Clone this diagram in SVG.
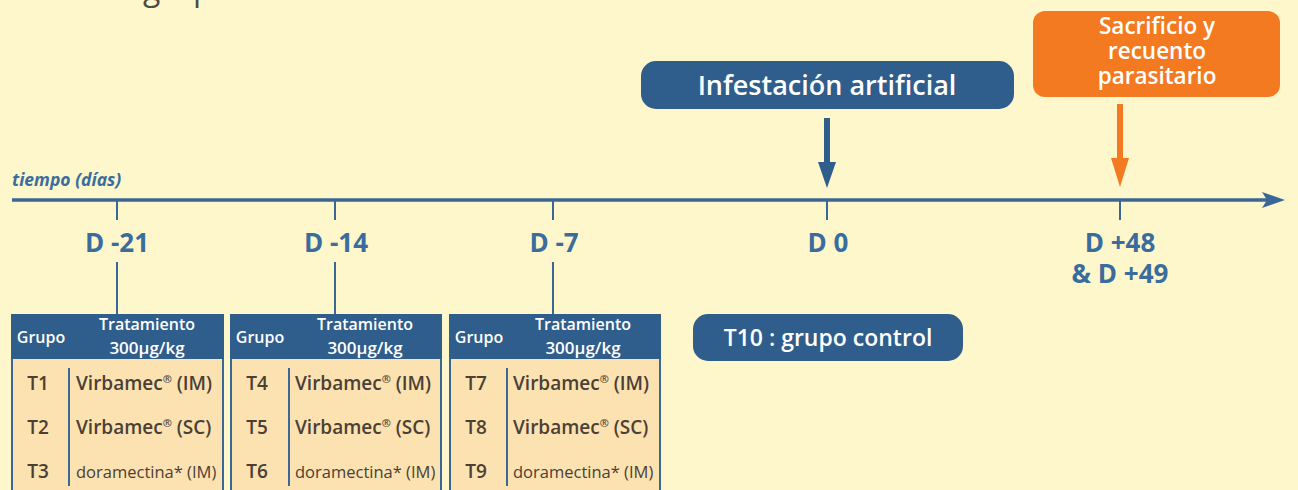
<svg xmlns="http://www.w3.org/2000/svg" width="1298" height="490" viewBox="0 0 1298 490">
<defs>
<style>
.bg{fill:#FEF7CB}
.axis{stroke:#3B6796;stroke-width:3.5;fill:none}
.tick{stroke:#3B6796;stroke-width:2;fill:none}
.day{font-family:"Open Sans",Lato,sans-serif;font-weight:bold;font-size:26px;fill:#3A6D9E;text-anchor:middle}
.boxb{fill:#2F5D8C}
.boxo{fill:#F47A22}
.wt{font-family:"Open Sans",Lato,sans-serif;font-weight:600;fill:#FFFFFF;text-anchor:middle}
.hdr{fill:#2F5D8C}
.body{fill:#FCE2B0;stroke:#3B6796;stroke-width:2}
.sep{stroke:#3B6796;stroke-width:2}
.grp{font-family:"Open Sans",Lato,sans-serif;font-weight:600;font-size:19px;fill:#4A4036;text-anchor:middle}
.trt{font-family:"Open Sans",Lato,sans-serif;font-weight:600;font-size:19px;fill:#4A4036}
.trs{font-family:"Open Sans",Lato,sans-serif;font-size:16.5px;fill:#4A4036}
.reg{font-size:11px}
</style>
</defs>
<rect class="bg" x="0" y="0" width="1298" height="490"/>
<text x="143" y="0" font-family="'Open Sans',Lato,sans-serif" font-size="32" fill="#4E4A46">grupo</text>

<g id="connectors">
<line class="axis" x1="12" y1="200" x2="1268" y2="200"/>
<path d="M1262,192 L1285,200 L1262,208 L1267,200 z" fill="#3B6796"/>
<line class="tick" x1="117" y1="200" x2="117" y2="220"/>
<line class="tick" x1="335" y1="200" x2="335" y2="220"/>
<line class="tick" x1="553" y1="200" x2="553" y2="220"/>
<line class="tick" x1="827" y1="200" x2="827" y2="220"/>
<line class="tick" x1="1120" y1="200" x2="1120" y2="220"/>
<line class="tick" x1="117" y1="262" x2="117" y2="314"/>
<line class="tick" x1="335" y1="262" x2="335" y2="314"/>
<line class="tick" x1="553" y1="262" x2="553" y2="314"/>
<path d="M824,118 L830,118 L830,162 L836,162 L827,188 L818,162 L824,162 z" fill="#2F5D8C"/>
<path d="M1117,104 L1123,104 L1123,158 L1129,158 L1120,187 L1111,158 L1117,158 z" fill="#F47A22"/>
</g>

<g id="axis-label">
<text x="12" y="186" font-family="'Open Sans',Lato,sans-serif" font-style="italic" font-weight="bold" font-size="17.5" fill="#3A6D9E">tiempo (días)</text>
</g>

<g id="day-labels">
<text class="day" x="117" y="252">D -21</text>
<text class="day" x="336" y="252">D -14</text>
<text class="day" x="554" y="252">D -7</text>
<text class="day" x="828" y="252">D 0</text>
<text class="day" x="1120" y="252">D +48</text>
<text class="day" x="1120" y="283">&amp; D +49</text>
</g>

<g id="infestacion">
<rect class="boxb" x="641" y="61" width="373" height="48" rx="15"/>
<text class="wt" x="827" y="95" font-size="27">Infestación artificial</text>
</g>

<g id="sacrificio">
<rect class="boxo" x="1033" y="11" width="247" height="86" rx="12"/>
<text class="wt" x="1157" y="34" font-size="22.5" font-weight="500">Sacrificio y</text>
<text class="wt" x="1157" y="59" font-size="22.5" font-weight="500">recuento</text>
<text class="wt" x="1157" y="84" font-size="22.5" font-weight="500">parasitario</text>
</g>

<g id="control">
<rect class="boxb" x="693" y="314" width="270" height="47" rx="15"/>
<text class="wt" x="828" y="346" font-size="23">T10 : grupo control</text>
</g>

<g id="tabla1">
<rect class="body" x="12" y="315" width="211" height="180"/>
<rect class="hdr" x="11" y="314" width="213" height="45"/>
<text class="wt" x="41" y="343" font-size="16">Grupo</text>
<text class="wt" x="147" y="330" font-size="16">Tratamiento</text>
<text class="wt" x="147" y="354" font-size="17">300µg/kg</text>
<line class="sep" x1="69" y1="368" x2="69" y2="486"/>
<text class="grp" x="38" y="390">T1</text>
<text class="trt" x="76" y="390">Virbamec<tspan class="reg" dy="-7">®</tspan><tspan dy="7"> (IM)</tspan></text>
<text class="grp" x="38" y="434">T2</text>
<text class="trt" x="76" y="434">Virbamec<tspan class="reg" dy="-7">®</tspan><tspan dy="7"> (SC)</tspan></text>
<text class="grp" x="38" y="478">T3</text>
<text class="trs" x="76" y="478">doramectina* (IM)</text>
</g>

<g id="tabla2">
<rect class="body" x="231" y="315" width="210" height="180"/>
<rect class="hdr" x="230" y="314" width="212" height="45"/>
<text class="wt" x="260" y="343" font-size="16">Grupo</text>
<text class="wt" x="365" y="330" font-size="16">Tratamiento</text>
<text class="wt" x="365" y="354" font-size="17">300µg/kg</text>
<line class="sep" x1="289" y1="368" x2="289" y2="486"/>
<text class="grp" x="257" y="390">T4</text>
<text class="trt" x="295" y="390">Virbamec<tspan class="reg" dy="-7">®</tspan><tspan dy="7"> (IM)</tspan></text>
<text class="grp" x="257" y="434">T5</text>
<text class="trt" x="295" y="434">Virbamec<tspan class="reg" dy="-7">®</tspan><tspan dy="7"> (SC)</tspan></text>
<text class="grp" x="257" y="478">T6</text>
<text class="trs" x="295" y="478">doramectina* (IM)</text>
</g>

<g id="tabla3">
<rect class="body" x="450" y="315" width="210" height="180"/>
<rect class="hdr" x="449" y="314" width="212" height="45"/>
<text class="wt" x="479" y="343" font-size="16">Grupo</text>
<text class="wt" x="583" y="330" font-size="16">Tratamiento</text>
<text class="wt" x="583" y="354" font-size="17">300µg/kg</text>
<line class="sep" x1="507" y1="368" x2="507" y2="486"/>
<text class="grp" x="476" y="390">T7</text>
<text class="trt" x="513" y="390">Virbamec<tspan class="reg" dy="-7">®</tspan><tspan dy="7"> (IM)</tspan></text>
<text class="grp" x="476" y="434">T8</text>
<text class="trt" x="513" y="434">Virbamec<tspan class="reg" dy="-7">®</tspan><tspan dy="7"> (SC)</tspan></text>
<text class="grp" x="476" y="478">T9</text>
<text class="trs" x="513" y="478">doramectina* (IM)</text>
</g>
</svg>
